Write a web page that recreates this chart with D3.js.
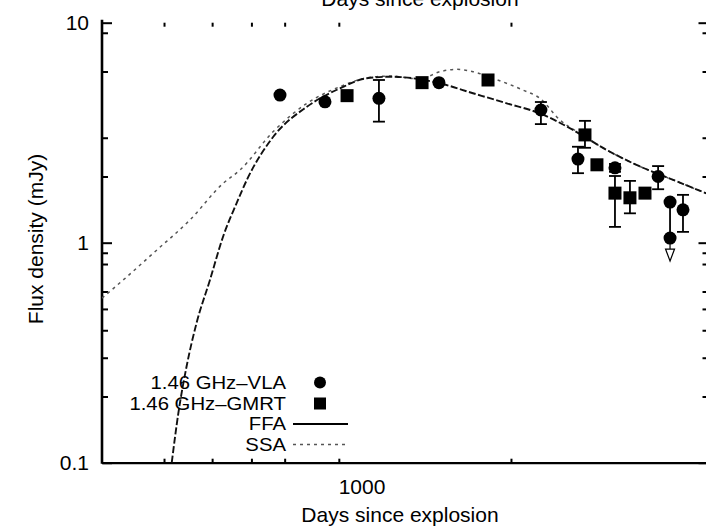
<!DOCTYPE html>
<html>
<head>
<meta charset="utf-8">
<script src="https://cdn.jsdelivr.net/npm/d3@7"></script>
<style>
  body { margin: 0; background: #fff; }
  svg { display: block; }
  text { font-family: "Liberation Sans", Arial, Helvetica, sans-serif; fill: #000; }
</style>
</head>
<body>
<svg id="chart" width="706" height="530"></svg>
<script>
// 1.46 GHz light curve: VLA and GMRT flux densities with FFA / SSA model fits

// VLA detections (days since explosion, mJy) with error-bar ends
const vlaDays = [685, 844, 1084, 1432, 2298, 2729, 3240, 3958, 4183, 4442];
const vlaFlux = [4.69, 4.37, 4.53, 5.34, 4.01, 2.40, 2.19, 2.00, 1.53, 1.41];
const vlaLo   = [null, null, 3.55, null, 3.46, 2.07, 2.10, 1.75, 1.07, 1.12];
const vlaHi   = [null, null, 5.49, null, 4.36, 2.73, 2.28, 2.23, 1.53, 1.65];

// VLA upper limit
const limitDays = [4183];
const limitFlux = [1.05];

// GMRT detections
const gmrtDays = [935, 1324, 1798, 2819, 2980, 3240, 3473, 3724];
const gmrtFlux = [4.66, 5.34, 5.49, 3.09, 2.26, 1.68, 1.60, 1.68];
const gmrtLo   = [null, null, null, 2.70, null, 1.18, 1.36, null];
const gmrtHi   = [null, null, null, 3.58, null, 2.01, 1.91, null];

// Free-free absorption model curve
const ffaDays = [414.6, 427.5, 444, 465, 495, 526, 560, 590, 664, 776, 905, 1024, 1141, 1270, 1439, 1677, 1961, 2288, 2670, 3117, 3639, 4243, 5000];
const ffaFlux = [0.10, 0.168, 0.273, 0.430, 0.677, 1.065, 1.51, 1.97, 3.03, 4.15, 5.03, 5.59, 5.68, 5.59, 5.30, 4.78, 4.30, 3.87, 3.25, 2.64, 2.22, 1.93, 1.66];

// Synchrotron self-absorption model curve
const ssaDays = [300, 331, 387, 451, 526, 569, 664, 776, 905, 1024, 1141, 1311, 1439, 1555, 1677, 1840, 2114, 2288, 2511, 2713, 3117, 3639, 4243, 5000];
const ssaFlux = [0.56, 0.677, 0.927, 1.268, 1.86, 2.14, 3.20, 4.30, 5.12, 5.61, 5.72, 5.55, 5.99, 6.14, 5.99, 5.59, 4.94, 4.53, 3.61, 3.20, 2.64, 2.22, 1.93, 1.66];

// Axis ticks
const xMinorTicks = [400, 500, 600, 700, 900, 2000];
const xLabelTicks = [1000];
const yMajorTicks = [0.1, 1, 10];
const yMinorTicks = [0.2, 0.3, 0.4, 0.5, 0.6, 0.8, 0.9, 2, 3, 6, 9];

const xTitle = "Days since explosion";
const yTitle = "Flux density (mJy)";
const legendLabels = ["1.46 GHz–VLA", "1.46 GHz–GMRT", "FFA", "SSA"];

const svg = d3.select("#chart");

const x = d3.scaleLog().domain([300, 5000]).range([102, 708.5]);
const y = d3.scaleLog().domain([0.1, 10]).range([462.7, 22.7]);
const [x0, x1] = x.range();
const [yb, yt] = y.range();

// Clip for curves
svg.append("defs").append("clipPath").attr("id", "plot-clip")
  .append("rect").attr("x", x0).attr("y", yt).attr("width", x1 - x0).attr("height", yb - yt);

// Title of the panel above (partly outside the frame)
svg.append("text").attr("x", 420).attr("y", 6).attr("text-anchor", "middle")
  .attr("font-size", 21).text(xTitle);

// Bottom axis: inward minor ticks
const bottomAxis = svg.append("g").attr("transform", `translate(0,${yb})`)
  .call(d3.axisBottom(x).tickValues(xMinorTicks).tickSize(-4).tickSizeOuter(0).tickFormat(""));
bottomAxis.select(".domain").attr("stroke", "#000").attr("stroke-width", 2.2);
bottomAxis.selectAll(".tick line").attr("stroke", "#000").attr("stroke-width", 2);

// Bottom labels
const bottomLab = svg.append("g").attr("transform", `translate(0,${yb})`)
  .call(d3.axisBottom(x).tickValues(xLabelTicks).tickSize(0).tickPadding(16).tickFormat(d3.format("d")));
bottomLab.select(".domain").remove();
bottomLab.selectAll("text").attr("font-size", 21).attr("font-family", "Liberation Sans, Arial, sans-serif").attr("fill", "#000");

// Top axis ticks
const topAxis = svg.append("g").attr("transform", `translate(0,${yt})`)
  .call(d3.axisTop(x).tickValues(xMinorTicks).tickSize(-4).tickSizeOuter(0).tickFormat(""));
topAxis.select(".domain").remove();
topAxis.selectAll(".tick line").attr("stroke", "#000").attr("stroke-width", 2);

// Left axis
const leftMinor = svg.append("g").attr("transform", `translate(${x0},0)`)
  .call(d3.axisLeft(y).tickValues(yMinorTicks).tickSize(-6).tickFormat(""));
leftMinor.select(".domain").remove();
leftMinor.selectAll(".tick line").attr("stroke", "#000").attr("stroke-width", 2);

const leftMajor = svg.append("g").attr("transform", `translate(${x0},0)`)
  .call(d3.axisLeft(y).tickValues(yMajorTicks).tickSize(-10).tickSizeOuter(0).tickPadding(13)
    .tickFormat(d => d3.format("~g")(d)));
leftMajor.select(".domain").remove();
leftMajor.selectAll(".tick line").attr("stroke", "#000").attr("stroke-width", 2);
leftMajor.selectAll("text").attr("font-size", 21).attr("font-family", "Liberation Sans, Arial, sans-serif").attr("fill", "#000");

svg.append("line").attr("x1", x0).attr("x2", x0).attr("y1", yt - 3).attr("y2", yb + 1)
  .attr("stroke", "#000").attr("stroke-width", 2.6);

// Right axis ticks
const rightMinor = svg.append("g").attr("transform", `translate(${x1},0)`)
  .call(d3.axisRight(y).tickValues(yMinorTicks).tickSize(-6).tickFormat(""));
rightMinor.select(".domain").remove();
rightMinor.selectAll(".tick line").attr("stroke", "#000").attr("stroke-width", 2);
const rightMajor = svg.append("g").attr("transform", `translate(${x1},0)`)
  .call(d3.axisRight(y).tickValues(yMajorTicks).tickSize(-10).tickFormat(""));
rightMajor.select(".domain").remove();
rightMajor.selectAll(".tick line").attr("stroke", "#000").attr("stroke-width", 2);

// Axis titles
svg.append("text").attr("x", 400).attr("y", 522).attr("text-anchor", "middle")
  .attr("font-size", 21).text(xTitle);
svg.append("text").attr("transform", "translate(43,239) rotate(-90)").attr("text-anchor", "middle")
  .attr("font-size", 21).text(yTitle);

// Model curves
const curveLine = d3.line().x(d => x(d[0])).y(d => y(d[1])).curve(d3.curveMonotoneX);
const curves = svg.append("g").attr("clip-path", "url(#plot-clip)");
curves.append("path").datum(d3.zip(ssaDays, ssaFlux)).attr("d", curveLine)
  .attr("fill", "none").attr("stroke", "#555").attr("stroke-width", 1.5).attr("stroke-dasharray", "3,4");
curves.append("path").datum(d3.zip(ffaDays, ffaFlux)).attr("d", curveLine)
  .attr("fill", "none").attr("stroke", "#111").attr("stroke-width", 1.9).attr("stroke-dasharray", "7,2.5");

// Error bars
function errorBars(days, flux, lo, hi) {
  const g = svg.append("g").attr("stroke", "#000").attr("stroke-width", 1.8);
  days.forEach((d, i) => {
    if (lo[i] == null) return;
    const cx = x(d);
    g.append("line").attr("x1", cx).attr("x2", cx).attr("y1", y(hi[i])).attr("y2", y(lo[i]));
    [lo[i], hi[i]].forEach(v => {
      if (v === flux[i]) return;
      g.append("line").attr("x1", cx - 6).attr("x2", cx + 6).attr("y1", y(v)).attr("y2", y(v));
    });
  });
}
errorBars(vlaDays, vlaFlux, vlaLo, vlaHi);
errorBars(gmrtDays, gmrtFlux, gmrtLo, gmrtHi);

// Markers
svg.append("g").selectAll("circle").data(d3.zip(vlaDays, vlaFlux)).join("circle")
  .attr("cx", d => x(d[0])).attr("cy", d => y(d[1])).attr("r", 6.5).attr("fill", "#000");
svg.append("g").selectAll("rect").data(d3.zip(gmrtDays, gmrtFlux)).join("rect")
  .attr("x", d => x(d[0]) - 6.5).attr("y", d => y(d[1]) - 6.5).attr("width", 13).attr("height", 13).attr("fill", "#000");

// Upper limit: circle with a downward arrow
const lim = svg.append("g");
d3.zip(limitDays, limitFlux).forEach(([d, f]) => {
  const cx = x(d), cy = y(f);
  lim.append("line").attr("x1", cx).attr("x2", cx).attr("y1", cy).attr("y2", cy + 11)
    .attr("stroke", "#000").attr("stroke-width", 1.2);
  lim.append("path").attr("d", `M${cx - 4.5},${cy + 11}L${cx + 4.5},${cy + 11}L${cx},${cy + 23}Z`)
    .attr("fill", "#fff").attr("stroke", "#000").attr("stroke-width", 1.2);
  lim.append("circle").attr("cx", cx).attr("cy", cy).attr("r", 6.5).attr("fill", "#000");
});

// Legend (labels slightly widened, compact rows)
const legend = svg.append("g");
const rowY = [382.5, 403.5, 424, 444.5];
legendLabels.forEach((t, i) => {
  legend.append("text")
    .attr("transform", `translate(286,${rowY[i]}) scale(1.13,1)`)
    .attr("dy", "0.35em").attr("text-anchor", "end").attr("font-size", 18).text(t);
});
legend.append("circle").attr("cx", 320).attr("cy", rowY[0]).attr("r", 6).attr("fill", "#000");
legend.append("rect").attr("x", 314).attr("y", rowY[1] - 6).attr("width", 12).attr("height", 12).attr("fill", "#000");
legend.append("line").attr("x1", 293).attr("x2", 348).attr("y1", rowY[2]).attr("y2", rowY[2])
  .attr("stroke", "#000").attr("stroke-width", 1.8);
legend.append("line").attr("x1", 293).attr("x2", 348).attr("y1", rowY[3]).attr("y2", rowY[3])
  .attr("stroke", "#555").attr("stroke-width", 1.5).attr("stroke-dasharray", "3,4");
</script>
</body>
</html>
